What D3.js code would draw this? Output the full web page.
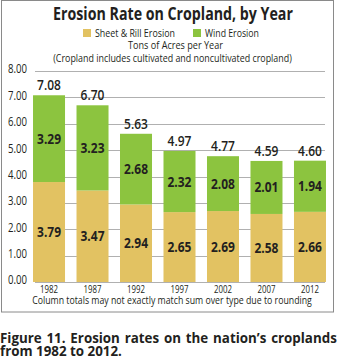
<!DOCTYPE html>
<html><head><meta charset="utf-8">
<script src="https://cdn.jsdelivr.net/npm/d3@7"></script>
<style>
html,body{margin:0;padding:0;background:#fff;}
svg{display:block;}
text{font-family:"Open Sans","DejaVu Sans",sans-serif;fill:#231f20;}
</style></head>
<body>
<svg id="c" width="338" height="363"></svg>
<script>
const years = ["1982","1987","1992","1997","2002","2007","2012"];
const sheetRill = [3.79,3.47,2.94,2.65,2.69,2.58,2.66];
const wind = [3.29,3.23,2.68,2.32,2.08,2.01,1.94];
const totals = [7.08,6.70,5.63,4.97,4.77,4.59,4.60];
const yTicks = [0,1,2,3,4,5,6,7,8];
const seriesNames = ["Sheet & Rill Erosion","Wind Erosion"];
const colors = ["#e2c262","#8cc43f"];

const svg = d3.select("#c");

// horizontal condensing to mimic a condensed face
function squeeze(sel, s){
  sel.each(function(){
    const t = d3.select(this); const ax = +t.attr("x"), ay = +t.attr("y");
    t.attr("transform",`translate(${ax},${ay}) scale(${s},1) translate(${-ax},${-ay})`);
  });
}
function fitTo(sel, target){
  const w = sel.node().getComputedTextLength();
  const s = target / w; squeeze(sel, s); return s;
}

svg.append("rect").attr("x",1.5).attr("y",0.5).attr("width",332).attr("height",311.5)
  .attr("fill","none").attr("stroke","#8a8a8a").attr("stroke-width",1);

const y = d3.scaleLinear().domain([0,8]).range([282,71]);
const x = d3.scaleBand().domain(years).range([27.8,331.2]).paddingInner(0.264).paddingOuter(0.12);

// grid
svg.append("g").selectAll("line").data(yTicks).join("line")
  .attr("x1",35).attr("x2",325).attr("y1",d=>Math.round(y(d))+0.5).attr("y2",d=>Math.round(y(d))+0.5)
  .attr("stroke","#b0b0b0").attr("stroke-width",1);
const yl = svg.append("g").selectAll("text").data(yTicks).join("text")
  .attr("x",27).attr("y",d=>y(d)+2.5).attr("text-anchor","end").style("font-size","12px")
  .text(d=>d3.format(".2f")(d));
const sy = 19 / yl.filter(d=>d===8).node().getComputedTextLength();
squeeze(yl, sy);

// stacked bars
const rows = years.map((yr,i)=>({year:yr, s:sheetRill[i], w:wind[i], t:totals[i]}));
const stack = d3.stack().keys(["s","w"])(rows);
const g = svg.append("g");
const segLabels = [];
stack.forEach((layer,li)=>{
  g.selectAll(null).data(layer).join("rect")
    .attr("x",d=>x(d.data.year)).attr("width",x.bandwidth())
    .attr("y",d=>y(d[1])).attr("height",d=>y(d[0])-y(d[1]))
    .attr("fill",colors[li]);
  segLabels.push(g.selectAll(null).data(layer).join("text")
    .attr("x",d=>x(d.data.year)+x.bandwidth()/2)
    .attr("y",d=>(y(d[0])+y(d[1]))/2+5)
    .attr("text-anchor","middle").style("font-size","14px").style("font-weight","bold")
    .text((d,i)=>d3.format(".2f")(li===0?sheetRill[i]:wind[i])));
});
const sNum = 24 / segLabels[0].filter((d,i)=>i===0).node().getComputedTextLength();
segLabels.forEach(s=>squeeze(s, sNum));
const tl = g.selectAll(null).data(rows).join("text")
  .attr("x",d=>x(d.year)+x.bandwidth()/2).attr("y",d=>y(d.s+d.w)-5)
  .attr("text-anchor","middle").style("font-size","14px").style("font-weight","600")
  .text(d=>d3.format(".2f")(d.t));
squeeze(tl, sNum);

// x labels
const xl = svg.append("g").selectAll("text").data(years).join("text")
  .attr("x",d=>x(d)+x.bandwidth()/2).attr("y",293.5).attr("text-anchor","middle")
  .style("font-size","10.5px").text(d=>d);
squeeze(xl, 18 / xl.node().getComputedTextLength());

// title & legend
fitTo(svg.append("text").attr("x",173).attr("y",20).attr("text-anchor","middle")
  .style("font-size","17px").style("font-weight","bold").text("Erosion Rate on Cropland, by Year"), 240);
const legX = [83,193];
const legW = [80,54];
seriesNames.forEach((n,i)=>{
  svg.append("rect").attr("x",legX[i]).attr("y",29).attr("width",8).attr("height",8).attr("fill",colors[i]);
  fitTo(svg.append("text").attr("x",legX[i]+12).attr("y",37).style("font-size","11.5px").text(n), legW[i]);
});
fitTo(svg.append("text").attr("x",175.5).attr("y",49).attr("text-anchor","middle").style("font-size","11.5px").text("Tons of Acres per Year"), 95);
fitTo(svg.append("text").attr("x",172.5).attr("y",62).attr("text-anchor","middle").style("font-size","11.5px")
  .text("(Cropland includes cultivated and noncultivated cropland)"), 239);
fitTo(svg.append("text").attr("x",172).attr("y",304.5).attr("text-anchor","middle").style("font-size","11px")
  .text("Column totals may not exactly match sum over type due to rounding"), 280);

// caption (justified first line)
const cap2 = svg.append("text").attr("x",0).attr("y",356)
  .style("font-size","14px").style("font-weight","bold").text("from 1982 to 2012.");
const sc = fitTo(cap2, 122);
const cap1 = svg.append("text").attr("x",0).attr("y",343)
  .style("font-size","14px").style("font-weight","bold")
  .text("Figure 11. Erosion rates on the nation\u2019s croplands");
const w1 = cap1.node().getComputedTextLength();
cap1.attr("word-spacing",(337/sc - w1)/7);
squeeze(cap1, sc);
</script>
</body></html>
